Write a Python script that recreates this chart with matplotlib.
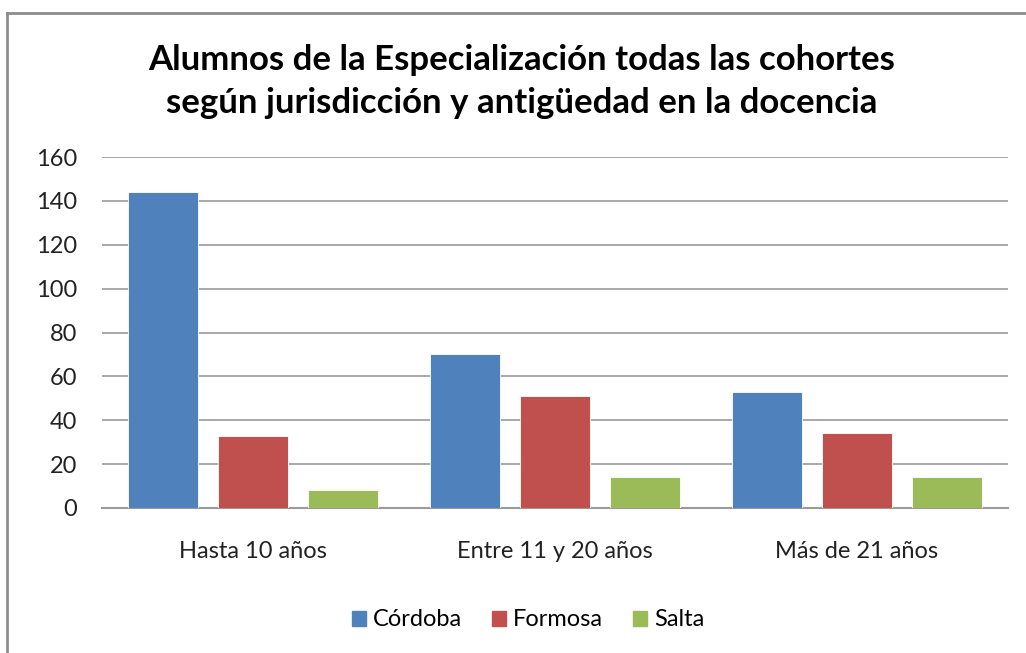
import matplotlib
matplotlib.use("Agg")
import matplotlib.pyplot as plt
import numpy as np
from matplotlib.patches import Rectangle
from matplotlib.lines import Line2D

categories = ["Hasta 10 años", "Entre 11 y 20 años", "Más de 21 años"]
series_names = ["Córdoba", "Formosa", "Salta"]
cordoba = [144, 70, 53]
formosa = [33, 51, 34]
salta = [8, 14, 14]
colors = ["#4F81BD", "#C0504D", "#9BBB59"]
yticks = [0, 20, 40, 60, 80, 100, 120, 140, 160]

W, H = 1026, 653
fig = plt.figure(figsize=(W / 100, H / 100), dpi=100)
fig.patch.set_facecolor("white")

# outer frame
fig.add_artist(Line2D([7 / W, 7 / W], [0, 1 - 12.5 / H], transform=fig.transFigure,
                      color="#8c8c8c", lw=2))
fig.add_artist(Line2D([7 / W, 1], [1 - 12.5 / H, 1 - 12.5 / H], transform=fig.transFigure,
                      color="#8c8c8c", lw=2))

x0, x1 = 102, 1008
y0, y1 = 508, 157
ax = fig.add_axes([x0 / W, 1 - y0 / H, (x1 - x0) / W, (y0 - y1) / H])

fam = ["Lato", "DejaVu Sans"]
x = np.arange(len(categories))
bw = 0.235
step = 0.298
for i, (vals, c, name) in enumerate(zip([cordoba, formosa, salta], colors, series_names)):
    ax.bar(x + (i - 1) * step, vals, width=bw, color=c, edgecolor="white",
           linewidth=0.6, label=name, zorder=3)

ax.set_xlim(-0.5, 2.5)
ax.set_ylim(0, 160)
ax.set_yticks(yticks)
ax.set_yticklabels([str(t) for t in yticks], family=fam, fontsize=17, color="#222222")
ax.set_xticks(x)
ax.set_xticklabels(categories, family=fam, fontsize=17, color="#222222")
ax.tick_params(axis="y", length=0, pad=18)
ax.tick_params(axis="x", length=0, pad=24)
ax.grid(axis="y", color="#9a9a9a", lw=1.2, zorder=0)
for s in ["top", "right", "left"]:
    ax.spines[s].set_visible(False)
ax.spines["bottom"].set_color("#9a9a9a")
ax.spines["bottom"].set_linewidth(1.5)

fig.text(522 / W, 1 - 60 / H, "Alumnos de la Especialización todas las cohortes",
         ha="center", va="center", family=fam, fontsize=25, fontweight="bold", color="black")
fig.text(522 / W, 1 - 103 / H, "según jurisdicción y antigüedad en la docencia",
         ha="center", va="center", family=fam, fontsize=25, fontweight="bold", color="black")

handles = [Rectangle((0, 0), 1, 1, color=c) for c in colors]
fig.legend(handles, series_names, loc="center", bbox_to_anchor=(528 / W, 1 - 620 / H),
           ncol=3, frameon=False, prop={"family": fam, "size": 17},
           handlelength=0.6, handleheight=0.6, handletextpad=0.3, columnspacing=1.25)

fig.savefig("out.png", dpi=100, facecolor="white")
